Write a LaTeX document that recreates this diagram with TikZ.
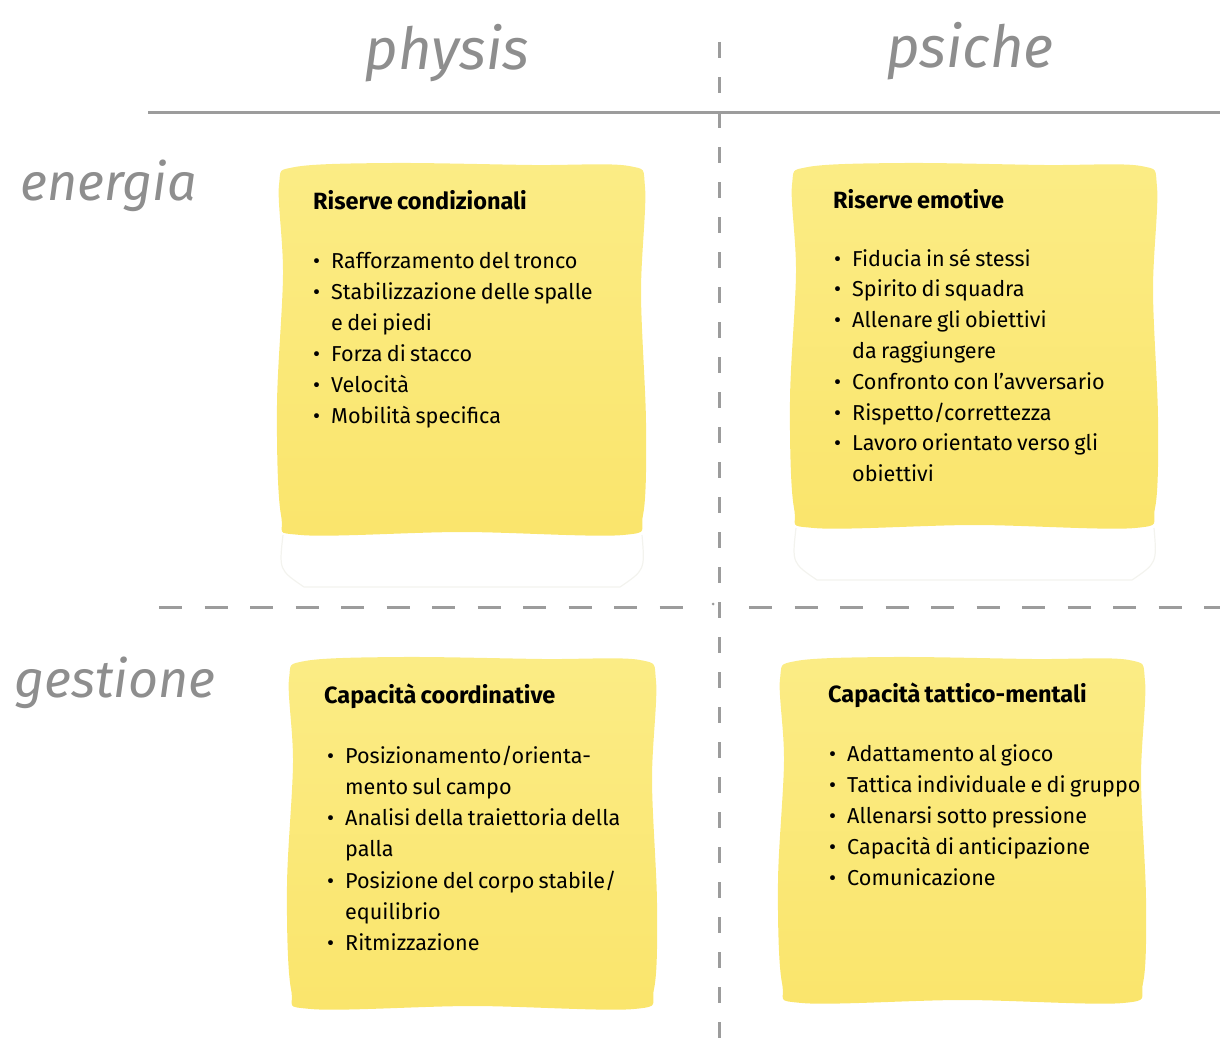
\documentclass[tikz,border=0pt]{standalone}
\usepackage{fontspec}
\setmainfont{Fira Sans}[WordSpace=0.75]
\newfontfamily\handfont{Fira Sans}
\definecolor{ylight}{HTML}{FBEC85}
\definecolor{ydark}{HTML}{FAE56C}
\definecolor{linegray}{HTML}{9C9C9C}
\definecolor{handgray}{HTML}{8E8E8E}
\definecolor{faint}{HTML}{F3F3EE}
\newcommand\bul{\makebox[18pt][l]{•}}
\newcommand\ind{\hspace*{18pt}}
\newcommand\paintbox[4]{%
  \shade[top color=ylight, bottom color=ydark]
    plot[smooth cycle, tension=0.55] coordinates {
      ({#1+16},{#2+4}) ({(#1+#3)/2-70},{#2}) ({(#1+#3)/2+70},{#2+2}) ({#3-16},{#2+3})
      ({#3},{#2+24}) ({#3-4},{#2+(#4-#2)*0.35}) ({#3+1},{#2+(#4-#2)*0.7}) ({#3-2},{#4-20})
      ({#3-22},{#4}) ({(#1+#3)/2},{#4-3}) ({#1+22},{#4}) ({#1+2},{#4-20})
      ({#1-2},{#2+(#4-#2)*0.65}) ({#1+4},{#2+(#4-#2)*0.3}) ({#1},{#2+22})};}
\newcommand\fadebox[4]{%
  \draw[faint, line width=1.2pt] ({#1+4},{#4}) .. controls ({#1},{#4+35}) .. ({#1+25},{#4+52})
    -- ({#3-25},{#4+52}) .. controls ({#3},{#4+35}) .. ({#3-3},{#4});}
\tikzset{
  hand/.style={font=\handfont\itshape\fontsize{52}{60}\selectfont, text=handgray, inner sep=0pt},
  headline/.style={font=\bfseries\fontsize{23.5}{28}\selectfont, anchor=base west, inner sep=0pt},
  itemline/.style={font=\fontsize{21.6}{26}\selectfont, anchor=base west, inner sep=0pt},
  solidrule/.style={draw=linegray, line width=3pt},
  hdash/.style={draw=linegray, line width=3pt, dash pattern=on 23pt off 22.5pt},
  vdash/.style={draw=linegray, line width=3pt, dash pattern=on 16pt off 19pt}
}
\begin{document}
\begin{tikzpicture}[x=1pt, y=-1pt]
\useasboundingbox (0,0) rectangle (1220,1057);

% painted boxes
\fadebox{279}{163}{645}{535}
\fadebox{792}{163}{1157}{528}
\paintbox{279}{163}{645}{535}
\paintbox{792}{163}{1157}{528}
\paintbox{289}{657}{656}{1009}
\paintbox{780}{657}{1145}{1003}

% rules
\coordinate (hl) at (148,112);
\coordinate (hr) at (1220,112);
\coordinate (vt) at (719,42);
\coordinate (vb) at (719,1057);
\coordinate (dl1) at (159,607);
\coordinate (dl2) at (690,607);
\coordinate (dr1) at (749,607);
\coordinate (dr2) at (1220,607);
\coordinate (dot) at (713,604);
\draw[solidrule] (hl) -- (hr);
\draw[vdash] (vt) -- (vb);
\draw[hdash] (dl1) -- (dl2);
\draw[hdash] (dr1) -- (dr2);
\fill[linegray] (dot) circle (1.5pt);

% handwritten labels
\node[hand, anchor=base] (physis) at (447,70) {\fontsize{58}{60}\selectfont physis};
\node[hand, anchor=base] (psiche) at (970,67) {\fontsize{58}{60}\selectfont psiche};
\node[hand, anchor=base west] (energia) at (20,200) {energia};
\node[hand, anchor=base west] (gestione) at (14,697) {gestione};

% headings
\node[headline] (h1) at (313,209) {Riserve condizionali};
\node[headline] (h2) at (833,208) {Riserve emotive};
\node[headline] (h3) at (324,703) {Capacità coordinative};
\node[headline] (h4) at (828,702) {Capacità tattico-mentali};

% lists
\foreach \t [count=\i] in {{\bul Rafforzamento del tronco},{\bul Stabilizzazione delle spalle},{\ind e dei piedi},{\bul Forza di stacco},{\bul Velocità},{\bul Mobilità specifica}}
  \node[itemline] (a\i) at (313,{268+31*(\i-1)}) {\t};

\foreach \t [count=\i] in {{\bul Fiducia in sé stessi},{\bul Spirito di squadra},{\bul Allenare gli obiettivi},{\ind da raggiungere},{\bul Confronto con l’avversario},{\bul Rispetto/correttezza},{\bul Lavoro orientato verso gli},{\ind obiettivi}}
  \node[itemline] (b\i) at (834,{266+30.8*(\i-1)}) {\t};

\foreach \t [count=\i] in {{\bul Posizionamento/orienta-},{\ind mento sul campo},{\bul Analisi della traiettoria della},{\ind palla},{\bul Posizione del corpo stabile/},{\ind equilibrio},{\bul Ritmizzazione}}
  \node[itemline] (c\i) at (327,{763+31.3*(\i-1)}) {\t};

\foreach \t [count=\i] in {{\bul Adattamento al gioco},{\bul Tattica individuale e di gruppo},{\bul Allenarsi sotto pressione},{\bul Capacità di anticipazione},{\bul Comunicazione}}
  \node[itemline] (d\i) at (829,{761+31*(\i-1)}) {\t};
\end{tikzpicture}
\end{document}
